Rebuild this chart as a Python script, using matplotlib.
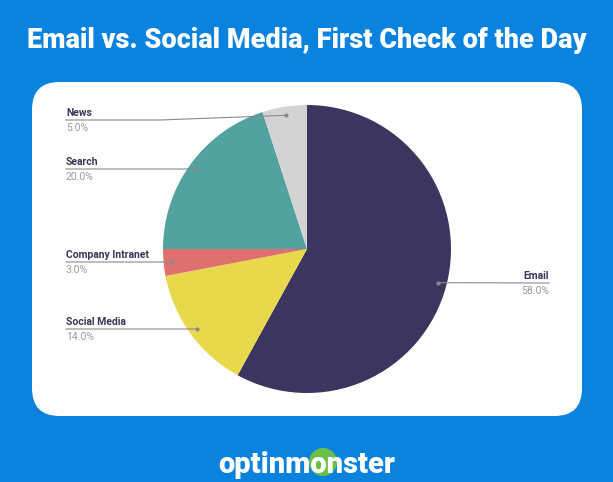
import matplotlib.pyplot as plt
import numpy as np
from matplotlib.patches import FancyBboxPatch, Ellipse
from matplotlib.lines import Line2D

categories = ["Email", "Social Media", "Company Intranet", "Search", "News"]
shares = [58.0, 14.0, 3.0, 20.0, 5.0]
colors = ["#3c3560", "#e8d84c", "#df7070", "#52a2a0", "#d3d3d3"]

W, H = 613, 482
BLUE = "#0a82de"
DARK = "#3b3557"
GREY = "#9b9b9b"


def fp(x, y):
    # pixel (from top-left) -> figure fraction
    return x / W, 1 - y / H


fig = plt.figure(figsize=(W / 100, H / 100), dpi=100)
fig.patch.set_facecolor(BLUE)

# white card
x0, y0 = fp(32, 416)
x1, y1 = fp(582, 82)
card = FancyBboxPatch((x0, y0), x1 - x0, y1 - y0,
                      boxstyle="round,pad=0,rounding_size=0.045",
                      transform=fig.transFigure, facecolor="white",
                      edgecolor="none", mutation_aspect=W / H, zorder=-5)
fig.add_artist(card)

fig.text(0.5, 1 - 40 / H, "Email vs. Social Media, First Check of the Day",
         ha="center", va="center", color="white", fontsize=19.5,
         fontweight="heavy", family="Roboto")

# pie axes: center (307, 249), radius 144 px
cx, cy, r = 307, 249, 144
ax = fig.add_axes([(cx - r) / W, (H - cy - r) / H, 2 * r / W, 2 * r / H])
ax.set_zorder(2)
wedges, _ = ax.pie(shares, colors=colors, startangle=90, counterclock=False,
                   wedgeprops=dict(linewidth=0))
ax.set_xlim(-1, 1)
ax.set_ylim(-1, 1)
ax.set_aspect("equal")
ax.axis("off")

# label layout (pixels): text x, name y, line y, line end x, align
layout = {
    "Email": (549, 276, 283, 439, "right"),
    "Social Media": (66, 322, 329, 198, "left"),
    "Company Intranet": (66, 255, 262, 172, "left"),
    "Search": (66, 162, 169, 198, "left"),
    "News": (66, 113, 120, 160, "left"),
}

to_fig = fig.transFigure.inverted()
for w, name, val in zip(wedges, categories, shares):
    mid = np.deg2rad((w.theta1 + w.theta2) / 2)
    ax_pt = (0.94 * np.cos(mid), 0.94 * np.sin(mid))
    fx, fy = to_fig.transform(ax.transData.transform(ax_pt))
    tx, ny, ly, lx, ha = layout[name]
    tfx, tfy = fp(tx, ny)
    fig.text(tfx, tfy, name, ha=ha, va="center", color=DARK,
             fontsize=7.5, fontweight="bold", family="Roboto")
    fig.text(tfx, fp(tx, ny + 15)[1], f"{val:.1f}%", ha=ha, va="center",
             color=GREY, fontsize=7.5, family="Roboto")
    if ha == "left":
        xs = [fp(tx, ly)[0], fp(lx, ly)[0], fx]
        ys = [fp(tx, ly)[1], fp(lx, ly)[1], fy]
    else:
        xs = [fp(tx, ly)[0], fx]
        ys = [fp(tx, ly)[1], fy]
    fig.add_artist(Line2D(xs, ys, color="#8a8a8a", lw=0.8,
                          transform=fig.transFigure, zorder=5))
    fig.add_artist(Line2D([fx], [fy], marker="o", ms=2, color="#8a8a8a",
                          transform=fig.transFigure, zorder=5))

# logo
mx, my = fp(323, 462)
fig.add_artist(Ellipse((mx, my), 28 / W, 28 / H, transform=fig.transFigure,
                       facecolor="#6cc04a", edgecolor="none", zorder=-1))
fig.text(0.5, 1 - 465 / H, "optinmonster", ha="center", va="center",
         color="white", fontsize=21, fontweight="heavy", family="Roboto")

fig.savefig("out.png", dpi=100, facecolor=fig.get_facecolor())
